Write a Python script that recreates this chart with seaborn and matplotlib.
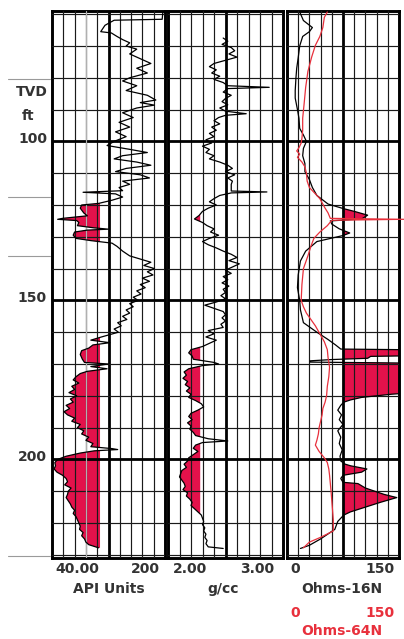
import matplotlib
matplotlib.use("Agg")
import matplotlib.pyplot as plt
import seaborn as sns
import numpy as np

# depth window (TVD, ft)
depth_top = 59
depth_bottom = 231

# track 1: gamma ray, API units
gr_depth = [59.3, 61.6, 61.9, 63.5, 65.5, 65.9, 67.0, 68.0, 69.0, 70.0,
            71.0, 72.5, 74.0, 75.5, 77.0, 78.5, 80.0, 81.0, 82.5, 84.0,
            85.5, 87.0, 87.8, 88.6, 89.5, 91.0, 92.5, 94.0, 95.5, 97.0,
            98.5, 100.0, 101.3, 102.5, 103.5, 104.5, 105.5, 106.5, 107.5, 108.5,
            109.5, 110.5, 111.5, 112.5, 113.5, 114.5, 115.5, 116.0, 116.5, 117.5,
            118.5, 119.5, 120.0, 121.0, 122.5, 123.4, 124.2, 124.5, 124.9, 125.5,
            126.5, 127.2, 127.6, 127.9, 128.5, 129.5, 130.5, 131.2, 132.0, 133.0,
            134.5, 136.0, 137.0, 138.0, 139.0, 140.0, 141.0, 142.0, 143.0, 144.0,
            145.0, 146.0, 147.0, 148.0, 149.0, 150.0, 151.0, 152.0, 153.0, 154.0,
            155.0, 156.0, 157.0, 158.0, 159.0, 160.0, 161.0, 161.5, 162.5, 163.3,
            164.0, 165.0, 165.8, 167.0, 168.5, 169.5, 170.0, 170.8, 171.5, 172.3,
            173.0, 174.0, 175.0, 176.0, 177.0, 178.0, 179.0, 180.0, 181.0, 182.0,
            183.0, 184.0, 185.0, 186.0, 187.0, 188.0, 189.0, 190.0, 191.0, 192.0,
            193.0, 194.0, 195.0, 196.0, 196.6, 196.9, 197.3, 198.0, 199.0, 200.0,
            201.0, 202.0, 203.0, 204.0, 205.0, 206.0, 207.0, 208.0, 209.0, 210.0,
            211.0, 212.0, 213.0, 214.0, 215.0, 216.0, 217.0, 218.0, 219.0, 220.0,
            221.0, 222.0, 223.0, 224.0, 225.0, 226.0, 226.8, 227.8]
gr_api = [197, 196, 128, 115, 109, 124, 132, 140, 150, 145,
          160, 150, 165, 180, 160, 175, 150, 140, 160, 145,
          175, 187, 165, 185, 160, 140, 155, 135, 150, 130,
          145, 128, 118, 150, 175, 140, 128, 160, 180, 145,
          130, 165, 178, 140, 150, 135, 140, 84, 130, 140,
          125, 106, 82, 80, 85, 90, 55, 48, 75, 78,
          76, 100, 120, 90, 72, 70, 74, 95, 125, 132,
          140, 150, 165, 180, 170, 185, 175, 183, 168, 178,
          165, 172, 160, 166, 155, 162, 150, 155, 145, 150,
          140, 146, 133, 138, 128, 134, 118, 110, 95, 122,
          98, 92, 82, 80, 83, 86, 120, 95, 118, 90,
          80, 74, 70, 78, 68, 72, 64, 75, 66, 70,
          60, 65, 57, 62, 72, 68, 80, 76, 85, 82,
          92, 88, 98, 95, 125, 133, 100, 80, 60, 48,
          44, 45, 43, 47, 55, 60, 62, 58, 67, 63,
          62, 60, 63, 66, 68, 72, 70, 74, 76, 78,
          80, 79, 84, 82, 86, 88, 92, 106]
gr_cut = 108

# track 2: bulk density, g/cc
rhob_depth = [67.5, 68.5, 69.5, 70.5, 71.5, 72.5, 73.5, 74.5, 75.5, 76.5,
              77.5, 78.5, 79.5, 80.5, 81.5, 82.5, 83.0, 83.4, 84.5, 85.5,
              86.5, 87.5, 88.5, 89.5, 90.5, 91.3, 91.8, 92.5, 93.5, 94.5,
              95.5, 96.5, 97.5, 98.5, 99.5, 100.5, 101.5, 102.5, 103.5, 104.5,
              105.5, 106.5, 107.5, 108.5, 109.5, 110.5, 111.5, 112.5, 113.5, 115.6,
              115.9, 116.2, 117.0, 118.0, 119.0, 120.0, 121.0, 122.0, 123.3, 124.4,
              125.5, 126.5, 127.5, 128.5, 129.5, 130.5, 131.5, 132.5, 133.5, 134.5,
              135.5, 136.5, 137.5, 138.5, 139.5, 140.5, 141.5, 142.5, 143.5, 144.5,
              145.5, 146.5, 147.5, 148.5, 149.5, 150.5, 151.5, 152.5, 153.5, 154.5,
              155.5, 156.5, 157.5, 158.5, 159.5, 160.5, 161.5, 162.5, 163.5, 164.5,
              165.5, 166.5, 167.5, 168.5, 169.5, 170.0, 170.5, 171.5, 172.5, 173.5,
              174.5, 175.5, 176.5, 177.5, 178.5, 179.5, 180.5, 181.5, 182.5, 183.5,
              184.5, 185.5, 186.5, 187.5, 188.5, 189.5, 190.5, 191.5, 192.5, 193.5,
              194.2, 194.7, 195.5, 196.5, 197.5, 198.5, 199.5, 200.5, 201.5, 202.5,
              203.5, 204.5, 205.5, 206.5, 207.5, 208.5, 209.5, 210.5, 211.5, 212.5,
              213.5, 214.5, 215.5, 216.5, 217.5, 218.5, 219.5, 220.5, 221.5, 222.5,
              223.5, 224.5, 225.5, 226.5, 227.5, 228.0]
rhob = [2.48, 2.52, 2.47, 2.55, 2.58, 2.53, 2.60, 2.50, 2.40, 2.36,
        2.42, 2.38, 2.45, 2.40, 2.48, 2.52, 2.88, 2.52, 2.48, 2.55,
        2.50, 2.47, 2.52, 2.45, 2.50, 2.68, 2.50, 2.44, 2.40, 2.45,
        2.38, 2.42, 2.36, 2.40, 2.33, 2.38, 2.30, 2.36, 2.33, 2.40,
        2.36, 2.45, 2.52, 2.56, 2.50, 2.58, 2.52, 2.56, 2.55, 2.55,
        2.86, 2.55, 2.45, 2.40, 2.36, 2.42, 2.35, 2.30, 2.27, 2.23,
        2.30, 2.34, 2.40, 2.37, 2.44, 2.36, 2.30, 2.35, 2.42, 2.48,
        2.55, 2.60, 2.53, 2.62, 2.56, 2.50, 2.55, 2.48, 2.52, 2.47,
        2.53, 2.48, 2.50, 2.46, 2.50, 2.42, 2.32, 2.40, 2.48, 2.50,
        2.47, 2.50, 2.46, 2.48, 2.35, 2.40, 2.33, 2.42, 2.36, 2.30,
        2.20, 2.18, 2.21, 2.22, 2.40, 2.44, 2.30, 2.18, 2.14, 2.16,
        2.13, 2.17, 2.15, 2.19, 2.16, 2.20, 2.18, 2.24, 2.29, 2.31,
        2.26, 2.20, 2.18, 2.21, 2.17, 2.20, 2.19, 2.22, 2.24, 2.35,
        2.52, 2.30, 2.24, 2.22, 2.26, 2.22, 2.18, 2.17, 2.14, 2.16,
        2.12, 2.11, 2.10, 2.12, 2.14, 2.15, 2.13, 2.17, 2.16, 2.19,
        2.21, 2.20, 2.23, 2.26, 2.29, 2.30, 2.31, 2.30, 2.32, 2.31,
        2.33, 2.32, 2.34, 2.33, 2.35, 2.48]
rhob_cut = 2.28

# track 3: resistivity, ohms (16N black, 64N red)
r16_depth = [59.3, 62.0, 64.2, 65.5, 67.0, 70.0, 73.7, 77.0, 80.0, 84.0,
             86.4, 90.0, 92.7, 95.9, 98.0, 100.0, 102.2, 104.5, 107.0, 109.5,
             112.0, 114.5, 117.0, 119.7, 121.1, 122.0, 123.2, 124.4, 125.0, 126.0,
             127.5, 128.8, 129.6, 131.5, 134.5, 137.6, 142.0, 146.0, 150.0, 153.0,
             157.0, 160.0, 162.3, 164.0, 165.3, 165.6, 167.3, 167.6, 168.2, 168.6,
             169.0, 169.4, 169.8, 174.0, 178.5, 179.5, 180.5, 181.3, 182.0, 183.0,
             184.5, 186.0, 187.5, 189.0, 191.0, 193.0, 195.0, 197.0, 199.0, 200.5,
             201.5, 202.0, 203.0, 204.0, 205.0, 206.0, 207.2, 207.6, 209.0, 211.0,
             212.0, 213.5, 215.0, 216.5, 217.5, 219.5, 222.0, 225.0, 227.0, 228.0]
r16 = [17, 22, 34, 30, 21, 17, 15, 13, 12, 11,
       11, 14, 16, 17, 22, 26, 22, 21, 24, 24,
       30, 34, 40, 55, 75, 90, 108, 100, 58, 60,
       70, 84, 75, 40, 25, 18, 15, 14, 17, 18,
       22, 40, 55, 65, 72, 200, 200, 112, 108, 60,
       31, 31, 200, 200, 200, 140, 100, 85, 76, 72,
       68, 73, 70, 75, 68, 72, 70, 74, 71, 72,
       78, 85, 107, 100, 75, 72, 75, 95, 105, 130,
       147, 125, 105, 85, 76, 68, 64, 45, 30, 18]
r64_depth = [59.3, 61.0, 64.2, 67.0, 69.8, 73.5, 78.0, 83.0, 88.0, 92.7,
             96.5, 99.0, 100.5, 102.0, 103.0, 104.0, 105.0, 106.5, 108.0, 110.0,
             112.5, 114.5, 116.0, 118.0, 120.6, 122.5, 124.2, 124.5, 124.8, 126.5,
             128.5, 130.5, 133.0, 136.0, 140.0, 145.0, 150.0, 152.0, 154.0, 156.0,
             158.0, 160.5, 163.0, 165.5, 168.0, 171.0, 174.0, 177.0, 180.0, 182.0,
             184.0, 186.0, 188.0, 190.0, 192.0, 194.0, 195.5, 197.5, 199.5, 201.0,
             203.0, 205.0, 207.5, 210.0, 213.0, 216.0, 219.0, 222.5, 224.5, 226.0,
             227.8]
r64 = [54, 50, 48, 44, 38, 33, 28, 25, 23, 21,
       21, 20, 19, 16, 13, 17, 14, 20, 24, 26,
       27, 30, 36, 44, 50, 55, 58, 157, 60, 54,
       44, 36, 32, 28, 22, 20, 19, 22, 26, 32,
       38, 44, 50, 54, 55, 57, 56, 54, 53, 51,
       48, 47, 45, 43, 42, 40, 38, 43, 50, 54,
       56, 57, 58, 59, 60, 61, 62, 62, 45, 30,
       22]
r16_cut = 75

# stray scale marks left of track 1
side_marks = [80.4, 117.5, 136.0, 230.4]

sns.set_style("white")
plt.rcParams["font.family"] = ["DejaVu Sans"]
plt.rcParams["font.weight"] = "bold"

RED = "#e3124b"
RED_LINE = "#e8303c"
TXT = "#333333"

fig = plt.figure(figsize=(4.04, 6.39), dpi=100)
ax1 = fig.add_axes([52 / 404, 81 / 639, 113 / 404, 547 / 639])
ax2 = fig.add_axes([168 / 404, 81 / 639, 115 / 404, 547 / 639])
ax3 = fig.add_axes([287 / 404, 81 / 639, 112 / 404, 547 / 639])


def log_grid(ax, lo, hi):
    ax.set_xlim(lo, hi)
    ax.set_ylim(depth_bottom, depth_top)
    step = (hi - lo) / 10
    ax.set_xticks([lo + 5 * step])
    ax.set_xticks([lo + i * step for i in range(1, 10) if i != 5], minor=True)
    ax.set_yticks([100, 150, 200])
    ax.set_yticks([d for d in range(60, 231, 10) if d % 50], minor=True)
    ax.grid(which="major", color="k", lw=2.0)
    ax.grid(which="minor", color="#1a1a1a", lw=0.85)
    ax.tick_params(which="both", length=0, labelbottom=False, labelleft=False)
    ax.set_axisbelow(False)
    ax.set_xlabel("")
    ax.set_ylabel("")
    for s in ax.spines.values():
        s.set_linewidth(2.1)
        s.set_color("k")


# gamma ray
gr_d = np.array(gr_depth)
gr_v = np.array(gr_api)
ax1.fill_betweenx(gr_d, gr_v, gr_cut, where=gr_v < gr_cut, interpolate=True,
                  color=RED, lw=0, zorder=1)
sns.lineplot(x=gr_v, y=gr_d, orient="y", sort=False, estimator=None,
             color="k", lw=0.9, zorder=3, ax=ax1)
log_grid(ax1, 40, 200)
ax1.axvline(88, color="#b0b0b0", lw=0.85, zorder=2.6)

# density
rh_d = np.array(rhob_depth)
rh_v = np.array(rhob)
ax2.fill_betweenx(rh_d, rh_v, rhob_cut, where=rh_v < rhob_cut, interpolate=True,
                  color=RED, lw=0, zorder=1)
sns.lineplot(x=rh_v, y=rh_d, orient="y", sort=False, estimator=None,
             color="k", lw=0.9, zorder=3, ax=ax2)
log_grid(ax2, 2.0, 3.0)

# resistivity
r16_d = np.array(r16_depth)
r16_v = np.array(r16)
ax3.fill_betweenx(r16_d, r16_cut, r16_v, where=r16_v > r16_cut, interpolate=True,
                  color=RED, lw=0, zorder=1)
sns.lineplot(x=r16_v, y=r16_d, orient="y", sort=False, estimator=None,
             color="k", lw=0.9, zorder=3, ax=ax3)
sns.lineplot(x=np.array(r64), y=np.array(r64_depth), orient="y", sort=False,
             estimator=None, color=RED_LINE, lw=0.9, zorder=3.5, clip_on=False, ax=ax3)
log_grid(ax3, 0, 150)

# depth labels
for d in [100, 150, 200]:
    ax1.annotate(str(d), xy=(0, d), xycoords=ax1.get_yaxis_transform(),
                 xytext=(-5, 2), textcoords="offset pixels", ha="right", va="center",
                 fontsize=10, color=TXT)
ax1.annotate("TVD", xy=(0, 100), xycoords=ax1.get_yaxis_transform(),
             xytext=(-4, 49), textcoords="offset pixels", ha="right", va="center",
             fontsize=10, color=TXT)
ax1.annotate("ft", xy=(0, 100), xycoords=ax1.get_yaxis_transform(),
             xytext=(-18, 25), textcoords="offset pixels", ha="right", va="center",
             fontsize=10, color=TXT)
for d in side_marks:
    ax1.axhline(d, xmin=-0.39, xmax=-0.02, color="#9a9a9a", lw=0.8, clip_on=False)


def scale_text(ax, text, xfrac, dx, dy, ha, color=TXT):
    ax.annotate(text, xy=(xfrac, 0), xycoords="axes fraction", xytext=(dx, dy),
                textcoords="offset pixels", ha=ha, va="center", fontsize=10, color=color)


scale_text(ax1, "40.00", 0, 3, -11, "left")
scale_text(ax1, "200", 1, -5, -11, "right")
scale_text(ax1, "API Units", 0.5, 0, -31, "center")
scale_text(ax2, "2.00", 0, 5, -11, "left")
scale_text(ax2, "3.00", 1, -9, -11, "right")
scale_text(ax2, "g/cc", 0.5, -2, -31, "center")
scale_text(ax3, "0", 0, 3, -11, "left")
scale_text(ax3, "150", 1, -4, -11, "right")
scale_text(ax3, "Ohms-16N", 0.5, -1, -31, "center")
scale_text(ax3, "0", 0, 3, -55, "left", RED_LINE)
scale_text(ax3, "150", 1, -4, -55, "right", RED_LINE)
scale_text(ax3, "Ohms-64N", 0.5, -1, -73, "center", RED_LINE)

fig.savefig("out.png", dpi=100)
